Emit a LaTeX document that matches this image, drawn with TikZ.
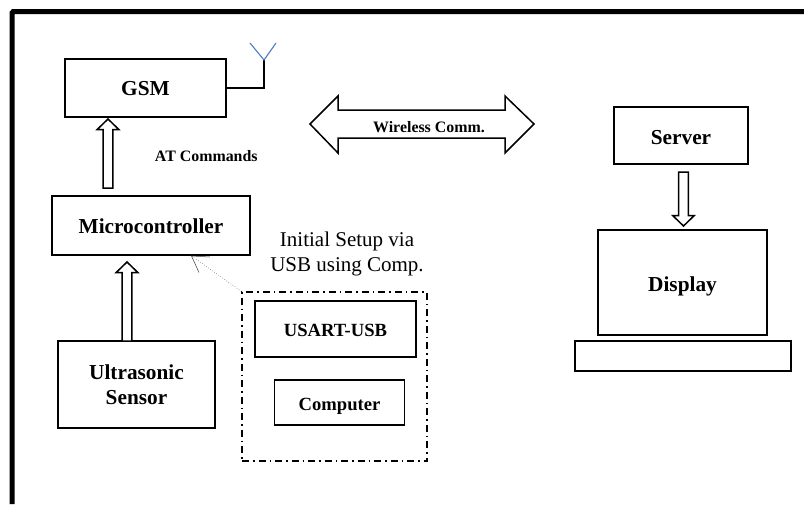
\documentclass[tikz,border=0pt]{standalone}
\usepackage{fontspec}
\setmainfont{Liberation Serif}
\usetikzlibrary{calc}
\newcommand{\lowered}[2]{\raisebox{-#1pt}[0pt][0pt]{#2}}
\tikzset{
  x=1pt,y=-1pt,
  box/.style={draw=black,line width=1.5pt,fill=white,inner sep=0pt,align=center,font=\bfseries\fontsize{21.3}{25}\selectfont},
  smallbox/.style={box,font=\bfseries\fontsize{18.6}{22}\selectfont},
  lab/.style={inner sep=0pt,align=center},
  smalllab/.style={lab,anchor=base,font=\bfseries\fontsize{15.9}{18}\selectfont},
  blockarrow/.style={draw=black,line width=1.5pt,fill=white,line join=miter},
  wire/.style={draw=black,line width=1.2pt},
  aerial/.style={draw=aerialblue,line width=1.1pt},
  groupbox/.style={draw=black,line width=1.5pt,dash pattern=on 7pt off 4pt on 1.5pt off 4pt,inner sep=0pt},
  thinlink/.style={draw=black!75,line width=0.5pt},
}
\definecolor{aerialblue}{HTML}{4A7EBB}
% hollow arrow: from #2 to #3 along the vertical; #1=1 points up, -1 points down
\newcommand{\hollowarrow}[3][1]{%
  \draw[blockarrow] let \p1=(#2),\p2=(#3) in
    (\x1-4.8,\y1) -- (\x1-4.8,\y2-#1*10.5pt) -- (\x1-10.8,\y2-#1*10.5pt) -- (\x1,\y2)
    -- (\x1+10.8,\y2-#1*10.5pt) -- (\x1+4.8,\y2-#1*10.5pt) -- (\x1+4.8,\y1) -- cycle;}
\begin{document}
\begin{tikzpicture}
\useasboundingbox (0,0) rectangle (804,504);
\fill[white] (0,0) rectangle (804,504);
% frame
\fill[black] (9.5,504) -- (9.5,12) -- (12,9) -- (804,9) -- (804,14) -- (14.5,14) -- (14.5,504) -- cycle;

\node[box,minimum width=161,minimum height=58] (gsm) at (145.5,88) {\lowered{7}{GSM}};
\node[box,minimum width=198,minimum height=59] (mcu) at (151,225.5) {\lowered{7.5}{Microcontroller}};
\node[box,minimum width=157,minimum height=87] (ultra) at (136.5,384.5) {\rule{0pt}{16pt}Ultrasonic\\Sensor};
\node[groupbox,minimum width=185,minimum height=169] (group) at (334.5,376.5) {};
\node[smallbox,minimum width=161,minimum height=56] (usart) at (335.5,329) {\lowered{7.7}{USART-USB}};
\node[smallbox,minimum width=130,minimum height=45] (comp) at (339.5,402.5) {\lowered{7.5}{Computer}};
\node[box,minimum width=134,minimum height=57] (server) at (681,135.5) {\lowered{8.5}{Server}};
\node[box,minimum width=169,minimum height=105] (display) at (682.5,282.5) {\lowered{9}{Display}};
\node[box,minimum width=216,minimum height=30] (base) at (683,356) {};

% aerial
\coordinate (aerialfoot) at (264,60);
\coordinate (aerialL) at (250,43);
\coordinate (aerialR) at (276,43);
\draw[wire] (gsm.east) -| (aerialfoot);
\draw[aerial] (aerialL) -- (aerialfoot) -- (aerialR);

% block arrows
\coordinate (a1s) at (108,188);
\coordinate (a1t) at (108,119);
\hollowarrow{a1s}{a1t}
\coordinate (a2s) at (127,341);
\coordinate (a2t) at (127,262);
\hollowarrow{a2s}{a2t}
\coordinate (a3s) at (683.5,172);
\coordinate (a3t) at (683.5,226);
\hollowarrow[-1]{a3s}{a3t}

% thin link
\coordinate (tip) at (191.5,256);
\draw[thinlink,dotted] (group.north west) -- (tip);
\draw[thinlink] (199,272.5) -- (tip) -- (210,257);

% wireless arrow
\draw[blockarrow] (310,124) -- (338,96) -- (338,110) -- (505,110) -- (505,96) -- (534,124) -- (505,153) -- (505,138) -- (338,138) -- (338,153) -- cycle;
\node[smalllab] (wl) at (429,132.7) {Wireless Comm.};
\node[smalllab] (at) at (206.3,161) {AT Commands};
\node[lab,font=\fontsize{21}{25}\selectfont] (setup) at (347,253.5) {Initial Setup via\\USB using Comp.};
\end{tikzpicture}
\end{document}
